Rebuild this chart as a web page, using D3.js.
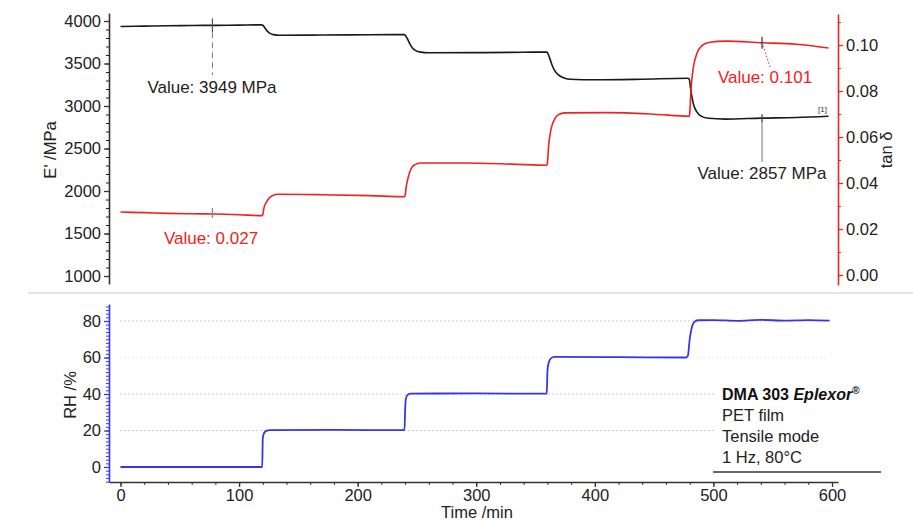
<!DOCTYPE html>
<html>
<head>
  <meta charset="utf-8">
  <script src="https://cdn.jsdelivr.net/npm/d3@7"></script>
  <style>
    body { margin: 0; background: #fff; }
    text { font-family: "Liberation Sans", Arial, sans-serif; }
  </style>
</head>
<body>
  <svg width="913" height="521" id="mainsvg"></svg>
  <script>
    // data: [time /min, value]
    const modulusData = [
      [0, 3935], [20, 3940], [40, 3944], [60, 3947], [80, 3949], [100, 3952], [119, 3955],
      [120, 3950], [122, 3915], [124, 3878], [126, 3855], [129, 3840], [134, 3833], [170, 3835],
      [210, 3838], [239.5, 3840],
      [240, 3834], [242, 3790], [244, 3730], [246, 3685], [249, 3652], [253, 3634], [260, 3626],
      [300, 3628], [340, 3632], [359.5, 3636],
      [360, 3630], [362, 3560], [364, 3480], [366, 3420], [369, 3370], [373, 3335], [379, 3314],
      [400, 3308], [440, 3315], [478, 3326],
      [479.5, 3318], [481, 3180], [483, 3030], [486, 2930], [490, 2878], [496, 2855], [510, 2846],
      [540, 2857], [570, 2865], [597, 2880]
    ];
    const tanDeltaData = [
      [0, 0.0274], [20, 0.0271], [40, 0.0268], [60, 0.0266], [80, 0.0265], [100, 0.0262], [119.5, 0.0258],
      [120, 0.0262], [121, 0.0292], [123, 0.0316], [125, 0.0333], [128, 0.0345], [133, 0.0351],
      [170, 0.0349], [210, 0.0345], [239.5, 0.0340],
      [240, 0.0346], [241, 0.0385], [243, 0.0432], [245, 0.0462], [248, 0.0479], [253, 0.0487],
      [290, 0.0487], [330, 0.0482], [359.5, 0.0477],
      [360, 0.0486], [361, 0.0560], [363, 0.0632], [366, 0.0677], [369, 0.0696], [375, 0.0705],
      [410, 0.0706], [450, 0.0699], [479.5, 0.0690],
      [480, 0.0702], [481, 0.0800], [483, 0.0900], [486, 0.0962], [490, 0.0996], [496, 0.1011],
      [510, 0.1017], [540, 0.1010], [570, 0.1003], [597, 0.0987]
    ];
    const rhData = [
      [0, 0], [60, 0], [119.5, 0],
      [120, 16], [121, 18.5], [123, 19.8], [126, 20.2], [180, 20.3], [239.5, 20.2],
      [240, 31], [240.7, 37.5], [242, 39.5], [245, 40.2], [300, 40.3], [359.5, 40.2],
      [360, 52], [361, 57], [363, 59.5], [366, 60.3], [420, 60.2], [477, 60],
      [478.5, 61], [480, 70], [482, 77], [484, 79.5], [487, 80.4], [500, 80.5], [520, 80.1],
      [540, 80.6], [560, 80.2], [580, 80.5], [598, 80.2]
    ];
    const timeTicks = [0, 100, 200, 300, 400, 500, 600];
    const modulusTicks = [1000, 1500, 2000, 2500, 3000, 3500, 4000];
    const tanTicks = [0, 0.02, 0.04, 0.06, 0.08, 0.10];
    const rhTicks = [0, 20, 40, 60, 80];
    const rhGrid = [20, 40, 60, 80];
    // value read-outs: [time, value, label]
    const modulusMarks = [[77.5, 3949, 'Value: 3949 MPa'], [541, 2857, 'Value: 2857 MPa']];
    const tanMarks = [[77.5, 0.027, 'Value: 0.027'], [541, 0.101, 'Value: 0.101']];
    const infoLines = ['PET film', 'Tensile mode', '1 Hz, 80°C'];

    const svg = d3.select('svg');
    const black = '#1a1a1a', red = '#ee2222', blue = '#3535ee', tickText = '#222';
    const fontSize = '16.5px';

    // scales
    const xScale = d3.scaleLinear().domain([0, 600]).range([120.5, 832]);
    const xAxisScale = d3.scaleLinear().domain([xScale.invert(109), xScale.invert(838)]).range([109, 838]);
    const yE = d3.scaleLinear().domain([1000, 4000]).range([276, 21]);
    const yEAxis = d3.scaleLinear().domain([yE.invert(284), yE.invert(13)]).range([284, 13]);
    const yTan = d3.scaleLinear().domain([0, 0.1]).range([275, 45]);
    const yTanAxis = d3.scaleLinear().domain([yTan.invert(285), yTan.invert(14)]).range([285, 14]);
    const yRH = d3.scaleLinear().domain([0, 80]).range([467, 321]);
    const yRHAxis = d3.scaleLinear().domain([yRH.invert(482), yRH.invert(304)]).range([482, 304]);

    // separator between the two panels
    svg.append('line').attr('x1', 28).attr('x2', 913).attr('y1', 293).attr('y2', 293)
      .attr('stroke', '#e3e3e3').attr('stroke-width', 2);

    // grid in the lower panel
    svg.append('g').selectAll('line').data(rhGrid).join('line')
      .attr('x1', 120).attr('x2', 828)
      .attr('y1', d => yRH(d)).attr('y2', d => yRH(d))
      .attr('stroke', d => d === 60 ? '#eeeeee' : '#cfcfcf')
      .attr('stroke-dasharray', '2,2').attr('stroke-width', 1);

    function styleAxis(g, color) {
      g.select('.domain').attr('stroke', color).attr('stroke-width', 1.6);
      g.selectAll('.tick line').attr('stroke', color).attr('stroke-width', 1.3);
      g.selectAll('.tick text').attr('fill', tickText).attr('font-size', fontSize)
        .attr('font-family', '"Liberation Sans", Arial, sans-serif');
    }
    function minorAxis(axis, x, y, color) {
      const g = svg.append('g').attr('transform', `translate(${x},${y})`).call(axis);
      g.select('.domain').remove();
      g.selectAll('.tick line').attr('stroke', color).attr('stroke-width', 1);
    }

    // E' axis (left, top)
    minorAxis(d3.axisLeft(yEAxis).tickValues(d3.range(1000, 4001, 100)).tickSize(3).tickFormat(''), 109, 0, black);
    const eAxisG = svg.append('g').attr('transform', 'translate(109,0)')
      .call(d3.axisLeft(yEAxis).tickValues(modulusTicks).tickSize(5).tickPadding(3).tickSizeOuter(0)
        .tickFormat(d3.format('d')));
    styleAxis(eAxisG, '#333');

    // tan delta axis (right)
    minorAxis(d3.axisRight(yTanAxis).tickValues(d3.range(0, 0.111, 0.01)).tickSize(3).tickFormat(''), 838, 0, red);
    const tanAxisG = svg.append('g').attr('transform', 'translate(838,0)')
      .call(d3.axisRight(yTanAxis).tickValues(tanTicks).tickSize(5).tickPadding(3).tickSizeOuter(0)
        .tickFormat(d3.format('.2f')));
    styleAxis(tanAxisG, red);

    // RH axis (left, bottom)
    minorAxis(d3.axisLeft(yRHAxis).tickValues(d3.range(-8, 89, 2)).tickSize(3).tickFormat(''), 109, 0, blue);
    const rhAxisG = svg.append('g').attr('transform', 'translate(109,0)')
      .call(d3.axisLeft(yRHAxis).tickValues(rhTicks).tickSize(5).tickPadding(3).tickSizeOuter(0));
    styleAxis(rhAxisG, blue);

    // time axis
    minorAxis(d3.axisBottom(xAxisScale).tickValues(d3.range(0, 601, 20)).tickSize(3).tickFormat(''), 0, 482, '#333');
    const xAxisG = svg.append('g').attr('transform', 'translate(0,482)')
      .call(d3.axisBottom(xAxisScale).tickValues(timeTicks).tickSize(5).tickPadding(2).tickSizeOuter(0));
    styleAxis(xAxisG, '#333');

    // axis titles
    const title = (txt, x, y, rot) => svg.append('text').text(txt)
      .attr('transform', `translate(${x},${y}) rotate(${rot})`)
      .attr('text-anchor', 'middle').attr('font-size', fontSize).attr('fill', tickText);
    title("E' /MPa", 56, 150, -90);
    title('tan δ', 892, 150, -90);
    title('RH /%', 76, 395, -90);
    title('Time /min', 477, 518, 0);

    // series
    const line = yScale => d3.line().x(d => xScale(d[0])).y(d => yScale(d[1])).curve(d3.curveMonotoneX);
    svg.append('path').datum(modulusData).attr('d', line(yE))
      .attr('fill', 'none').attr('stroke', black).attr('stroke-width', 1.6);
    svg.append('path').datum(tanDeltaData).attr('d', line(yTan))
      .attr('fill', 'none').attr('stroke', red).attr('stroke-width', 1.6);
    svg.append('path').datum(rhData).attr('d', line(yRH))
      .attr('fill', 'none').attr('stroke', blue).attr('stroke-width', 1.8);

    // read-out markers
    const m0 = modulusMarks[0], m1 = modulusMarks[1], t0 = tanMarks[0], t1 = tanMarks[1];
    const mark = (x, y, len, color) => svg.append('line').attr('x1', x).attr('x2', x)
      .attr('y1', y - len).attr('y2', y + len).attr('stroke', color).attr('stroke-width', 1.2);
    // 3949 MPa
    mark(xScale(m0[0]), yE(m0[1]), 7, '#555');
    svg.append('line').attr('x1', xScale(m0[0])).attr('x2', xScale(m0[0]))
      .attr('y1', yE(m0[1]) + 7).attr('y2', 75).attr('stroke', '#777').attr('stroke-dasharray', '6,4');
    // 0.027
    mark(xScale(t0[0]), yTan(t0[1]), 5, '#888');
    // 0.101
    mark(xScale(t1[0]), yTan(t1[1]), 6, '#333');
    svg.append('line').attr('x1', xScale(t1[0]) + 1).attr('x2', xScale(t1[0]) + 8)
      .attr('y1', yTan(t1[1]) + 3).attr('y2', 67).attr('stroke', red).attr('stroke-dasharray', '1.5,2');
    // 2857 MPa
    mark(xScale(m1[0]), yE(m1[1]), 4, '#333');
    svg.append('line').attr('x1', xScale(m1[0])).attr('x2', xScale(m1[0]))
      .attr('y1', yE(m1[1])).attr('y2', 162).attr('stroke', '#777');

    const label = (txt, x, y, color) => svg.append('text').text(txt).attr('x', x).attr('y', y)
      .attr('text-anchor', 'middle').attr('font-size', '17px').attr('fill', color);
    label(m0[2], 212, 93, '#222');
    label(t0[2], 211, 244, red);
    label(t1[2], 765, 83, red);
    label(m1[2], 762, 179, '#222');
    svg.append('text').text('[1]').attr('x', 818).attr('y', 112)
      .attr('font-size', '8px').attr('fill', '#333');

    // instrument info box
    svg.append('rect').attr('x', 716).attr('y', 381).attr('width', 166).attr('height', 88).attr('fill', '#fff');
    const head = svg.append('text').attr('x', 722).attr('y', 400).attr('font-size', '16px')
      .attr('fill', '#111').attr('font-weight', 'bold');
    head.append('tspan').text('DMA 303 ');
    head.append('tspan').text('Eplexor').attr('font-style', 'italic');
    head.append('tspan').text('®').attr('font-size', '10px').attr('dy', -6);
    svg.append('g').selectAll('text').data(infoLines).join('text')
      .attr('x', 722).attr('y', (d, i) => 421 + i * 21)
      .attr('font-size', fontSize).attr('fill', '#222').text(d => d);
    svg.append('line').attr('x1', 713).attr('x2', 881).attr('y1', 472).attr('y2', 472)
      .attr('stroke', '#333').attr('stroke-width', 1.5);
  </script>
</body>
</html>
